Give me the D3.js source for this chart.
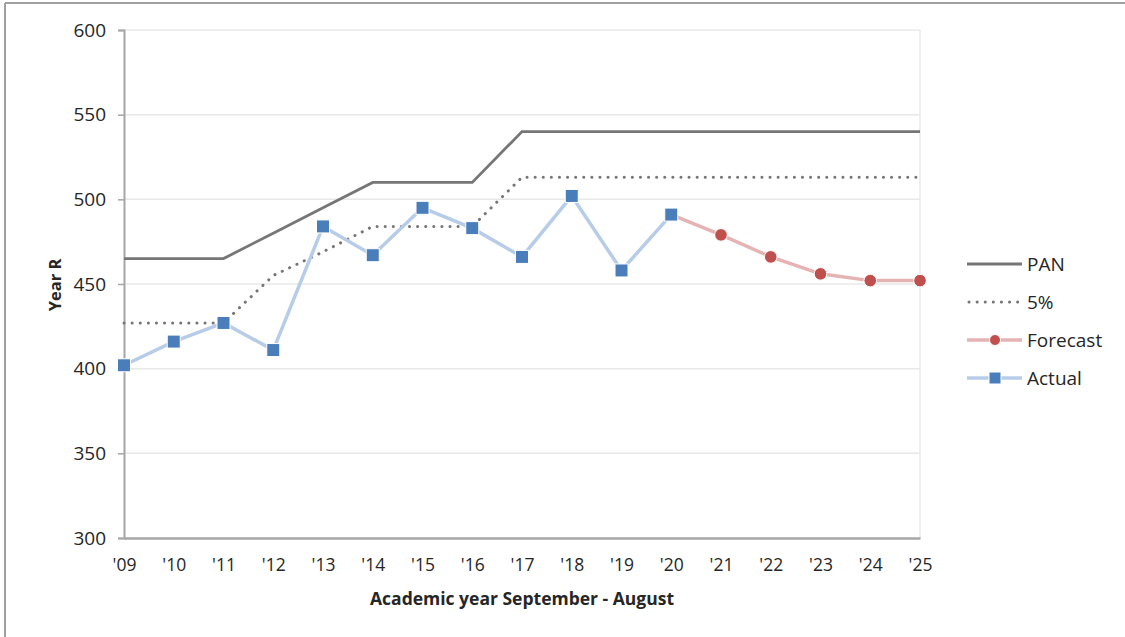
<!DOCTYPE html>
<html>
<head>
<meta charset="utf-8">
<title>Year R</title>
<script src="https://cdn.jsdelivr.net/npm/d3@7"></script>
<style>
  body { margin: 0; background: #fff; }
  svg text { font-family: "Open Sans", "Noto Sans", sans-serif; fill: #262626; }
</style>
</head>
<body>
<svg></svg>
<script>
const WIDTH = 1125;
const HEIGHT = 637;
const FONT = "'Open Sans', 'Noto Sans', sans-serif";

// Data
const years = ["'09", "'10", "'11", "'12", "'13", "'14", "'15", "'16", "'17",
               "'18", "'19", "'20", "'21", "'22", "'23", "'24", "'25"];
const pan = [465, 465, 465, 480, 495, 510, 510, 510, 540, 540, 540, 540, 540, 540, 540, 540, 540];
const fivePct = [427, 427, 427, 455, 469, 484, 484, 484, 513, 513, 513, 513, 513, 513, 513, 513, 513];
const actual = [402, 416, 427, 411, 484, 467, 495, 483, 466, 502, 458, 491];
const forecastYears = ["'20", "'21", "'22", "'23", "'24", "'25"];
const forecast = [491, 479, 466, 456, 452, 452];
const yTicks = [300, 350, 400, 450, 500, 550, 600];

const margin = { left: 124, right: 205, top: 30, bottom: 99 };

const svg = d3.select("svg")
    .attr("width", WIDTH)
    .attr("height", HEIGHT);

// frame lines around the figure
svg.append("line").attr("x1", 5).attr("x2", WIDTH).attr("y1", 3).attr("y2", 3)
    .attr("stroke", "#a0a0a0").attr("stroke-width", 2);
svg.append("line").attr("x1", 5).attr("x2", 5).attr("y1", 3).attr("y2", HEIGHT)
    .attr("stroke", "#a0a0a0").attr("stroke-width", 2);

var x = d3.scalePoint()
    .domain(years)
    .range([margin.left, WIDTH - margin.right]);

var y = d3.scaleLinear()
    .domain([300, 600])
    .range([HEIGHT - margin.bottom, margin.top]);

// gridlines
svg.append("g")
    .selectAll("line")
    .data(yTicks.slice(1))
    .enter()
    .append("line")
    .attr("x1", margin.left)
    .attr("x2", WIDTH - margin.right)
    .attr("y1", d => y(d))
    .attr("y2", d => y(d))
    .attr("stroke", "#e8e8e8")
    .attr("stroke-width", 1.5);

// plot area right edge
svg.append("line")
    .attr("x1", WIDTH - margin.right).attr("x2", WIDTH - margin.right)
    .attr("y1", margin.top).attr("y2", HEIGHT - margin.bottom)
    .attr("stroke", "#e8e8e8").attr("stroke-width", 1.5);

// y axis
var yAxis = svg.append("g")
    .attr("transform", "translate(" + margin.left + ",0)")
    .call(d3.axisLeft(y).tickValues(yTicks).tickSize(6).tickPadding(12));
yAxis.select(".domain").attr("stroke", "#a6a6a6").attr("stroke-width", 2);
yAxis.selectAll(".tick line").attr("stroke", "#a6a6a6").attr("stroke-width", 1.5);
yAxis.selectAll("text")
    .style("font-family", FONT)
    .style("font-size", "19px").attr("fill", "#262626");

// x axis
var xAxis = svg.append("g")
    .attr("transform", "translate(0," + (HEIGHT - margin.bottom) + ")")
    .call(d3.axisBottom(x).tickSize(0).tickPadding(21));
xAxis.select(".domain").attr("stroke", "#a6a6a6").attr("stroke-width", 2.5);
xAxis.selectAll("text")
    .style("font-family", FONT)
    .style("font-size", "17.5px").attr("fill", "#262626");

// axis titles
svg.append("text")
    .attr("x", (margin.left + WIDTH - margin.right) / 2)
    .attr("y", 605)
    .attr("text-anchor", "middle")
    .style("font-size", "17.5px")
    .style("font-weight", "bold")
    .text("Academic year September - August");

svg.append("text")
    .attr("transform", "translate(61,285) rotate(-90)")
    .attr("text-anchor", "middle")
    .style("font-size", "16.5px")
    .style("font-weight", "bold")
    .text("Year R");

var line = d3.line()
    .x(d => x(d[0]))
    .y(d => y(d[1]));

// PAN
svg.append("path")
    .attr("d", line(d3.zip(years, pan)))
    .attr("fill", "none")
    .attr("stroke", "#767676")
    .attr("stroke-width", 2.8);

// 5%
svg.append("path")
    .attr("d", line(d3.zip(years, fivePct)))
    .attr("fill", "none")
    .attr("stroke", "#767676")
    .attr("stroke-width", 3)
    .attr("stroke-linecap", "round")
    .attr("stroke-dasharray", "0.1 8");

// Forecast
svg.append("path")
    .attr("d", line(d3.zip(forecastYears, forecast)))
    .attr("fill", "none")
    .attr("stroke", "#e6b3b3")
    .attr("stroke-width", 3.5);
svg.append("g")
    .selectAll("circle")
    .data(d3.zip(forecastYears, forecast).slice(1))
    .enter()
    .append("circle")
    .attr("cx", d => x(d[0]))
    .attr("cy", d => y(d[1]))
    .attr("r", 6.3)
    .attr("fill", "#c0504d")
    .attr("stroke", "#fff")
    .attr("stroke-width", 1);

// Actual
var actualData = d3.zip(years.slice(0, actual.length), actual);
svg.append("path")
    .attr("d", line(actualData))
    .attr("fill", "none")
    .attr("stroke", "#b7cce8")
    .attr("stroke-width", 3.5);
svg.append("g")
    .selectAll("rect")
    .data(actualData)
    .enter()
    .append("rect")
    .attr("x", d => x(d[0]) - 6.5)
    .attr("y", d => y(d[1]) - 6.5)
    .attr("width", 13)
    .attr("height", 13)
    .attr("fill", "#4a7ebb")
    .attr("stroke", "#fff")
    .attr("stroke-width", 1);

// legend
const legendItems = ["PAN", "5%", "Forecast", "Actual"];
var legend = svg.append("g").attr("transform", "translate(967,264)");
legendItems.forEach(function(name, i) {
    var g = legend.append("g").attr("transform", "translate(0," + (i * 38) + ")");
    if (name === "PAN") {
        g.append("line").attr("x1", 0).attr("x2", 55)
            .attr("stroke", "#767676").attr("stroke-width", 2.8);
    } else if (name === "5%") {
        g.append("line").attr("x1", 2).attr("x2", 55)
            .attr("stroke", "#767676").attr("stroke-width", 3)
            .attr("stroke-linecap", "round").attr("stroke-dasharray", "0.1 8");
    } else if (name === "Forecast") {
        g.append("line").attr("x1", 0).attr("x2", 55)
            .attr("stroke", "#e6b3b3").attr("stroke-width", 3.5);
        g.append("circle").attr("cx", 28).attr("r", 5.5)
            .attr("fill", "#c0504d").attr("stroke", "#fff");
    } else {
        g.append("line").attr("x1", 0).attr("x2", 55)
            .attr("stroke", "#b7cce8").attr("stroke-width", 3.5);
        g.append("rect").attr("x", 22).attr("y", -6).attr("width", 12).attr("height", 12)
            .attr("fill", "#4a7ebb").attr("stroke", "#fff");
    }
    g.append("text")
        .attr("x", 60)
        .attr("dy", "0.35em")
        .style("font-size", "19px")
        .text(name);
});
</script>
</body>
</html>
